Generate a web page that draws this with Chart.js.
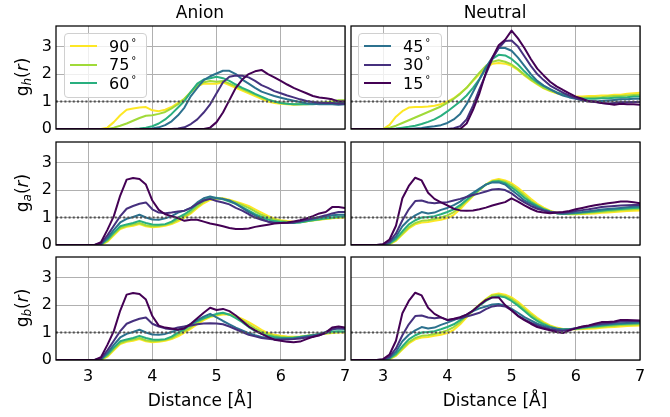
<!DOCTYPE html>
<html>
<head>
<meta charset="utf-8">
<script src="https://cdn.jsdelivr.net/npm/chart.js@4.4.0/dist/chart.umd.min.js"></script>
<style>
  html, body { margin: 0; padding: 0; background: #fff; }
  #figure { position: relative; width: 670px; height: 417px; overflow: hidden;
            font-family: "DejaVu Sans", sans-serif; color: #000; }
  #figure canvas { position: absolute; z-index: 1; }
  .txt { position: absolute; transform: translate(-50%, -50%); white-space: nowrap; line-height: 1; z-index: 2; }
  .col-title { font-size: 17px; }
  .x-label { font-size: 17px; }
  .y-label { font-size: 17px; transform: translate(-50%, -50%) rotate(-90deg); }
  .y-label sub { font-size: 12px; vertical-align: -3px; }
  .legend { position: absolute; z-index: 3; box-sizing: border-box; background: rgba(255,255,255,0.8);
            border: 1px solid #d0d0d0; border-radius: 4px; padding: 3px 0 0 5px; }
  .legend-row { display: flex; align-items: center; height: 18.5px; font-size: 16px; }
  .legend-swatch { flex: 0 0 27px; height: 2px; margin-right: 12px; }
  .deg { font-size: 10px; position: relative; top: -6px; margin-left: 2px; }
</style>
</head>
<body>
<div id="figure">
  <div class="txt col-title" style="left:200px; top:12px;">Anion</div>
  <div class="txt col-title" style="left:495px; top:12px;">Neutral</div>
  <div class="txt y-label" style="left:23px; top:77px;">g<sub><i>h</i></sub>(<i>r</i>)</div>
  <div class="txt y-label" style="left:23px; top:193px;">g<sub><i>a</i></sub>(<i>r</i>)</div>
  <div class="txt y-label" style="left:23px; top:308px;">g<sub><i>b</i></sub>(<i>r</i>)</div>
  <div class="txt x-label" style="left:200px; top:400px;">Distance [Å]</div>
  <div class="txt x-label" style="left:495px; top:400px;">Distance [Å]</div>
  <div class="legend" id="legend-left" style="left:64px; top:33px; width:83px; height:65px;"></div>
  <div class="legend" id="legend-right" style="left:358px; top:33px; width:84px; height:65px;"></div>
</div>
<script>
// distance grid (Å) shared by every curve
const xs = [2.5, 2.6, 2.7, 2.8, 2.9, 3.0, 3.1, 3.2, 3.3, 3.4, 3.5, 3.6, 3.7, 3.8, 3.9,
            4.0, 4.1, 4.2, 4.3, 4.4, 4.5, 4.6, 4.7, 4.8, 4.9, 5.0, 5.1, 5.2, 5.3, 5.4,
            5.5, 5.6, 5.7, 5.8, 5.9, 6.0, 6.1, 6.2, 6.3, 6.4, 6.5, 6.6, 6.7, 6.8, 6.9, 7.0];
const xTicks = [3, 4, 5, 6, 7];
const yTicks = [0, 1, 2, 3];
const refX = [2.5, 7];
const refY = [1, 1];
const angles = ["90", "75", "60", "45", "30", "15"];
const angleColors = ["#fde725", "#a0da39", "#29af7f", "#2c718e", "#46307e", "#440154"];

// Anion, g_h(r)
const anionH90 = [0,0,0,0,0,0,0,0, 0.05,0.25,0.5,0.7,0.75,0.78,0.8,0.68,0.65,0.7,0.8,0.95,1.1,1.35,1.55,1.65,1.65,1.65,1.7,1.6,1.5,1.4,1.3,1.2,1.1,1.0,0.95,0.92,0.9,0.88,0.9,0.9,0.92,0.93,0.95,1.0,1.0,1.0];
const anionH75 = [0,0,0,0,0,0,0,0,0, 0.05,0.12,0.2,0.3,0.4,0.48,0.5,0.55,0.62,0.75,0.9,1.1,1.35,1.6,1.7,1.75,1.72,1.75,1.65,1.55,1.45,1.35,1.25,1.15,1.05,1.0,0.95,0.92,0.9,0.9,0.92,0.93,0.95,0.97,1.0,1.05,1.05];
const anionH60 = [0,0,0,0,0,0,0,0,0,0,0,0,0, 0.02,0.05,0.1,0.2,0.35,0.55,0.78,1.02,1.35,1.65,1.8,1.85,1.9,1.85,1.75,1.62,1.5,1.4,1.28,1.18,1.08,1.0,0.95,0.92,0.9,0.9,0.9,0.9,0.92,0.93,0.95,0.95,0.95];
const anionH45 = [0,0,0,0,0,0,0,0,0,0,0,0,0,0,0, 0.02,0.06,0.14,0.28,0.5,0.78,1.2,1.5,1.78,1.92,2.02,2.12,2.12,2.0,1.8,1.65,1.5,1.36,1.28,1.2,1.14,1.08,1.03,0.98,0.94,0.92,0.9,0.9,0.9,0.88,0.9];
const anionH30 = [0,0,0,0,0,0,0,0,0,0,0,0,0,0,0,0,0,0,0, 0.02,0.06,0.18,0.35,0.6,0.9,1.3,1.7,1.9,1.95,1.94,1.88,1.75,1.6,1.5,1.38,1.3,1.22,1.15,1.08,1.02,0.98,0.96,0.95,0.95,0.92,0.92];
const anionH15 = [0,0,0,0,0,0,0,0,0,0,0,0,0,0,0,0,0,0,0,0,0,0,0,0, 0.05,0.25,0.6,1.05,1.5,1.8,2.0,2.1,2.15,2.0,1.88,1.75,1.62,1.5,1.4,1.3,1.2,1.15,1.12,1.08,1.0,1.0];

// Neutral, g_h(r)
const neutralH90 = [0,0,0,0,0,0, 0.15,0.45,0.65,0.78,0.8,0.8,0.82,0.85,0.9,1.0,1.12,1.3,1.5,1.75,2.0,2.2,2.38,2.4,2.38,2.3,2.15,1.95,1.78,1.62,1.48,1.38,1.3,1.24,1.2,1.18,1.18,1.2,1.2,1.22,1.22,1.25,1.25,1.28,1.3,1.32];
const neutralH75 = [0,0,0,0,0,0, 0.05,0.12,0.22,0.32,0.42,0.52,0.62,0.72,0.82,0.95,1.1,1.28,1.5,1.78,2.05,2.3,2.45,2.5,2.45,2.35,2.18,1.98,1.8,1.65,1.5,1.4,1.32,1.25,1.2,1.15,1.14,1.14,1.15,1.16,1.18,1.2,1.2,1.22,1.24,1.25];
const neutralH60 = [0,0,0,0,0,0,0, 0.02,0.05,0.08,0.12,0.18,0.26,0.35,0.48,0.64,0.82,1.0,1.22,1.5,1.82,2.2,2.55,2.7,2.68,2.55,2.35,2.1,1.88,1.7,1.56,1.44,1.34,1.26,1.18,1.12,1.1,1.1,1.1,1.12,1.12,1.14,1.15,1.16,1.18,1.18];
const neutralH45 = [0,0,0,0,0,0,0,0,0,0, 0.02,0.04,0.07,0.1,0.14,0.22,0.35,0.55,0.9,1.35,1.8,2.25,2.6,2.95,2.95,2.85,2.6,2.3,2.0,1.75,1.58,1.45,1.32,1.22,1.15,1.1,1.05,1.02,1.0,1.02,1.04,1.06,1.08,1.08,1.1,1.1];
const neutralH30 = [0,0,0,0,0,0,0,0,0,0,0,0,0,0,0,0, 0.03,0.1,0.35,0.85,1.45,2.0,2.55,2.95,3.2,3.22,3.0,2.65,2.3,2.0,1.78,1.58,1.45,1.32,1.22,1.12,1.05,1.02,0.98,0.95,0.93,0.95,0.97,0.97,0.98,0.98];
const neutralH15 = [0,0,0,0,0,0,0,0,0,0,0,0,0,0,0,0,0,0, 0.2,0.7,1.3,2.05,2.6,3.05,3.25,3.58,3.3,2.95,2.55,2.2,1.95,1.72,1.55,1.42,1.3,1.18,1.1,1.0,1.0,0.95,0.92,0.88,0.92,0.9,0.9,0.88];

// Anion, g_a(r)
const anionA90 = [0,0,0,0,0,0,0, 0,0.12,0.35,0.58,0.66,0.7,0.76,0.68,0.65,0.66,0.7,0.76,0.86,1.0,1.15,1.35,1.52,1.64,1.68,1.7,1.65,1.58,1.5,1.42,1.3,1.18,1.06,0.96,0.9,0.87,0.85,0.84,0.86,0.89,0.92,0.95,0.97,0.99,1.0];
const anionA75 = [0,0,0,0,0,0,0, 0.01,0.15,0.4,0.62,0.7,0.75,0.8,0.72,0.68,0.7,0.74,0.8,0.92,1.05,1.2,1.4,1.58,1.68,1.7,1.68,1.62,1.55,1.45,1.35,1.22,1.1,1.0,0.92,0.88,0.85,0.83,0.83,0.86,0.9,0.93,0.96,0.98,1.0,1.02];
const anionA60 = [0,0,0,0,0,0,0, 0.02,0.2,0.45,0.68,0.75,0.8,0.88,0.8,0.75,0.74,0.76,0.85,1.0,1.12,1.28,1.48,1.63,1.72,1.72,1.66,1.58,1.5,1.38,1.25,1.12,1.02,0.93,0.87,0.84,0.82,0.8,0.82,0.86,0.9,0.94,0.97,1.0,1.03,1.05];
const anionA45 = [0,0,0,0,0,0,0, 0.03,0.25,0.55,0.82,0.95,1.02,1.1,1.0,0.93,0.92,0.97,1.05,1.18,1.25,1.35,1.55,1.7,1.77,1.7,1.68,1.62,1.5,1.35,1.2,1.08,0.95,0.86,0.82,0.8,0.8,0.82,0.86,0.9,0.95,1.0,1.03,1.08,1.1,1.1];
const anionA30 = [0,0,0,0,0,0,0, 0.05,0.35,0.7,1.05,1.32,1.42,1.5,1.55,1.3,1.18,1.16,1.18,1.22,1.25,1.35,1.5,1.62,1.68,1.6,1.55,1.48,1.35,1.25,1.12,1.0,0.92,0.85,0.8,0.8,0.8,0.82,0.86,0.92,0.97,1.02,1.08,1.15,1.2,1.2];
const anionA15 = [0,0,0,0,0,0,0, 0.1,0.55,1.05,1.8,2.38,2.44,2.4,2.2,1.62,1.28,1.12,1.05,0.98,0.88,0.92,0.92,0.85,0.78,0.74,0.68,0.62,0.58,0.58,0.6,0.66,0.7,0.74,0.78,0.8,0.82,0.86,0.9,0.97,1.05,1.15,1.2,1.38,1.38,1.35];

// Neutral, g_a(r)
const neutralA90 = [0,0,0,0,0, 0.0,0.03,0.15,0.38,0.6,0.75,0.82,0.84,0.88,0.92,0.98,1.1,1.3,1.55,1.78,2.0,2.2,2.35,2.4,2.35,2.25,2.08,1.88,1.68,1.5,1.36,1.25,1.18,1.14,1.12,1.12,1.13,1.14,1.15,1.17,1.18,1.2,1.22,1.24,1.25,1.26];
const neutralA75 = [0,0,0,0,0, 0.0,0.04,0.18,0.42,0.65,0.8,0.88,0.9,0.95,1.0,1.08,1.2,1.38,1.6,1.8,2.0,2.2,2.32,2.35,2.3,2.18,2.0,1.8,1.6,1.45,1.32,1.22,1.16,1.13,1.13,1.14,1.15,1.17,1.19,1.21,1.23,1.25,1.27,1.29,1.3,1.32];
const neutralA60 = [0,0,0,0,0, 0.01,0.06,0.22,0.5,0.75,0.9,1.0,1.02,1.05,1.12,1.2,1.3,1.45,1.65,1.85,2.02,2.2,2.3,2.32,2.25,2.1,1.92,1.72,1.55,1.42,1.3,1.22,1.16,1.14,1.15,1.16,1.18,1.2,1.22,1.25,1.27,1.29,1.31,1.33,1.35,1.36];
const neutralA45 = [0,0,0,0,0, 0.01,0.08,0.3,0.68,0.92,1.08,1.2,1.15,1.18,1.28,1.35,1.45,1.58,1.75,1.9,2.05,2.2,2.28,2.28,2.2,2.0,1.82,1.62,1.5,1.38,1.28,1.2,1.16,1.14,1.16,1.18,1.2,1.23,1.26,1.29,1.31,1.33,1.35,1.37,1.39,1.4];
const neutralA30 = [0,0,0,0,0, 0.02,0.12,0.42,0.9,1.3,1.6,1.62,1.55,1.52,1.55,1.56,1.62,1.68,1.75,1.82,1.88,1.95,2.02,2.04,2.0,1.88,1.7,1.55,1.42,1.32,1.25,1.2,1.18,1.17,1.2,1.24,1.27,1.3,1.34,1.38,1.4,1.42,1.44,1.45,1.46,1.46];
const neutralA15 = [0,0,0,0,0, 0.03,0.2,0.7,1.7,2.15,2.45,2.35,1.9,1.68,1.55,1.44,1.32,1.26,1.25,1.26,1.3,1.36,1.44,1.5,1.56,1.7,1.58,1.44,1.32,1.22,1.18,1.16,1.18,1.2,1.24,1.3,1.35,1.4,1.45,1.48,1.52,1.55,1.58,1.58,1.56,1.52];

// Anion, g_b(r)
const anionB90 = [0,0,0,0,0,0,0, 0,0.12,0.35,0.58,0.66,0.7,0.76,0.68,0.65,0.66,0.7,0.76,0.86,1.0,1.14,1.3,1.45,1.56,1.62,1.66,1.66,1.6,1.5,1.38,1.24,1.1,0.98,0.92,0.88,0.86,0.85,0.85,0.87,0.9,0.93,0.96,0.98,1.0,1.0];
const anionB75 = [0,0,0,0,0,0,0, 0.01,0.15,0.4,0.62,0.7,0.75,0.8,0.72,0.68,0.7,0.74,0.8,0.92,1.05,1.2,1.36,1.5,1.6,1.65,1.7,1.66,1.56,1.44,1.3,1.15,1.02,0.94,0.88,0.85,0.83,0.83,0.85,0.88,0.91,0.94,0.97,1.0,1.02,1.02];
const anionB60 = [0,0,0,0,0,0,0, 0.02,0.2,0.45,0.68,0.75,0.8,0.88,0.8,0.75,0.74,0.76,0.85,1.0,1.12,1.28,1.42,1.52,1.6,1.68,1.72,1.65,1.52,1.38,1.2,1.06,0.96,0.88,0.84,0.81,0.8,0.81,0.84,0.87,0.9,0.94,0.98,1.04,1.05,1.04];
const anionB45 = [0,0,0,0,0,0,0, 0.03,0.25,0.55,0.82,0.95,1.02,1.1,1.0,0.93,0.92,0.95,1.02,1.1,1.2,1.3,1.45,1.58,1.68,1.55,1.42,1.3,1.18,1.08,0.98,0.9,0.84,0.8,0.78,0.77,0.77,0.78,0.82,0.86,0.9,0.95,1.02,1.12,1.15,1.13];
const anionB30 = [0,0,0,0,0,0,0, 0.05,0.35,0.7,1.05,1.32,1.42,1.5,1.55,1.32,1.22,1.15,1.12,1.18,1.22,1.26,1.3,1.33,1.34,1.33,1.3,1.22,1.12,1.02,0.92,0.86,0.8,0.77,0.75,0.74,0.75,0.76,0.78,0.82,0.86,0.9,0.98,1.12,1.16,1.15];
const anionB15 = [0,0,0,0,0,0,0, 0.1,0.55,1.05,1.8,2.38,2.44,2.4,2.2,1.6,1.25,1.18,1.15,1.1,1.15,1.32,1.52,1.72,1.9,1.82,1.86,1.78,1.62,1.42,1.22,1.08,0.95,0.84,0.74,0.7,0.66,0.65,0.67,0.76,0.84,0.9,1.0,1.18,1.22,1.18];

// Neutral, g_b(r)
const neutralB90 = [0,0,0,0,0, 0.0,0.03,0.15,0.38,0.6,0.75,0.82,0.84,0.88,0.92,0.98,1.1,1.3,1.55,1.8,2.02,2.22,2.38,2.42,2.38,2.28,2.12,1.92,1.72,1.54,1.38,1.26,1.18,1.13,1.12,1.12,1.13,1.14,1.15,1.17,1.19,1.2,1.22,1.24,1.25,1.26];
const neutralB75 = [0,0,0,0,0, 0.0,0.04,0.18,0.42,0.65,0.8,0.88,0.9,0.95,1.0,1.08,1.2,1.38,1.6,1.8,2.0,2.2,2.35,2.38,2.32,2.22,2.05,1.85,1.65,1.48,1.34,1.23,1.16,1.12,1.12,1.13,1.15,1.17,1.19,1.21,1.23,1.25,1.27,1.28,1.29,1.3];
const neutralB60 = [0,0,0,0,0, 0.01,0.06,0.22,0.5,0.75,0.9,1.0,1.02,1.05,1.12,1.2,1.3,1.45,1.62,1.8,1.98,2.15,2.28,2.32,2.28,2.15,1.98,1.78,1.58,1.42,1.3,1.2,1.14,1.12,1.12,1.14,1.17,1.2,1.22,1.25,1.27,1.29,1.31,1.32,1.33,1.34];
const neutralB45 = [0,0,0,0,0, 0.01,0.08,0.3,0.68,0.92,1.08,1.2,1.15,1.18,1.28,1.36,1.45,1.55,1.65,1.78,1.88,1.95,2.02,2.04,1.98,1.86,1.72,1.56,1.44,1.32,1.24,1.18,1.14,1.1,1.12,1.16,1.2,1.23,1.26,1.28,1.3,1.32,1.34,1.35,1.36,1.37];
const neutralB30 = [0,0,0,0,0, 0.02,0.12,0.42,0.9,1.3,1.6,1.62,1.55,1.52,1.55,1.45,1.48,1.52,1.58,1.65,1.72,1.85,1.95,1.98,1.95,1.82,1.62,1.48,1.36,1.26,1.18,1.12,1.08,1.06,1.1,1.16,1.2,1.24,1.28,1.32,1.34,1.37,1.4,1.41,1.42,1.42];
const neutralB15 = [0,0,0,0,0, 0.03,0.2,0.7,1.7,2.15,2.45,2.35,1.9,1.68,1.55,1.46,1.5,1.56,1.65,1.8,2.0,2.18,2.28,2.28,2.0,1.8,1.6,1.45,1.32,1.2,1.14,1.08,1.02,0.98,1.08,1.15,1.22,1.26,1.32,1.38,1.38,1.4,1.46,1.46,1.45,1.44];

// plot-area geometry in page pixels
const M = { left: 42, top: 18, right: 14 };
const colLeft = [56, 351];
const rowTop = [26, 142, 257];
const plotW = 289, plotH = 103;

Chart.defaults.font.family = '"DejaVu Sans", sans-serif';
Chart.defaults.font.size = 16;
Chart.defaults.color = '#000';

const framePlugin = {
    id: 'frame',
    afterDatasetsDraw(chart) {
        const { ctx, chartArea: a } = chart;
        ctx.save();
        ctx.strokeStyle = '#000';
        ctx.lineWidth = 1.25;
        ctx.strokeRect(a.left, a.top, a.right - a.left, a.bottom - a.top);
        ctx.restore();
    }
};

function makePanel(col, row, seriesList) {
    const showX = row === 2;
    const showY = col === 0;
    const bottom = showX ? 30 : 16;
    const canvas = document.createElement('canvas');
    canvas.width = M.left + plotW + M.right;
    canvas.height = M.top + plotH + bottom;
    canvas.style.left = (colLeft[col] - M.left) + 'px';
    canvas.style.top = (rowTop[row] - M.top) + 'px';
    document.getElementById('figure').appendChild(canvas);

    // first dataset is drawn on top: reference line, then 15° ... 90°
    const datasets = [{
        data: refX.map((x, i) => ({ x, y: refY[i] })),
        borderColor: '#505050',
        borderWidth: 2,
        borderDash: [2, 2.2]
    }];
    for (let k = seriesList.length - 1; k >= 0; k--) {
        datasets.push({
            data: xs.map((x, i) => ({ x, y: seriesList[k][i] })),
            borderColor: angleColors[k],
            borderWidth: 2
        });
    }

    return new Chart(canvas, {
        type: 'line',
        data: { datasets },
        options: {
            responsive: false,
            animation: false,
            devicePixelRatio: 1,
            layout: { padding: { left: 0, top: M.top, right: M.right, bottom: 0 } },
            plugins: { legend: { display: false }, tooltip: { enabled: false } },
            elements: { point: { radius: 0 }, line: { tension: 0, borderJoinStyle: 'round' } },
            scales: {
                x: {
                    type: 'linear', min: 2.5, max: 7,
                    afterBuildTicks: s => { s.ticks = xTicks.map(v => ({ value: v })); },
                    afterFit: s => { s.height = bottom; },
                    grid: { color: '#b0b0b0', lineWidth: 1, drawTicks: false },
                    border: { display: false },
                    ticks: { display: showX, padding: 7, color: '#000', maxRotation: 0 }
                },
                y: {
                    min: 0, max: 3.75,
                    afterBuildTicks: s => { s.ticks = yTicks.map(v => ({ value: v })); },
                    afterFit: s => { s.width = M.left; },
                    grid: { color: '#b0b0b0', lineWidth: 1, drawTicks: false },
                    border: { display: false },
                    ticks: { display: showY, padding: 4, color: '#000' }
                }
            }
        },
        plugins: [framePlugin]
    });
}

makePanel(0, 0, [anionH90, anionH75, anionH60, anionH45, anionH30, anionH15]);
makePanel(1, 0, [neutralH90, neutralH75, neutralH60, neutralH45, neutralH30, neutralH15]);
makePanel(0, 1, [anionA90, anionA75, anionA60, anionA45, anionA30, anionA15]);
makePanel(1, 1, [neutralA90, neutralA75, neutralA60, neutralA45, neutralA30, neutralA15]);
makePanel(0, 2, [anionB90, anionB75, anionB60, anionB45, anionB30, anionB15]);
makePanel(1, 2, [neutralB90, neutralB75, neutralB60, neutralB45, neutralB30, neutralB15]);

// legends: first three angles on the left panel, last three on the right
function fillLegend(id, idx) {
    const box = document.getElementById(id);
    idx.forEach(k => {
        const row = document.createElement('div');
        row.className = 'legend-row';
        row.innerHTML = `<span class="legend-swatch" style="background:${angleColors[k]}"></span>` +
                        `<span>${angles[k]}<span class="deg">°</span></span>`;
        box.appendChild(row);
    });
}
fillLegend('legend-left', [0, 1, 2]);
fillLegend('legend-right', [3, 4, 5]);
</script>
</body>
</html>
